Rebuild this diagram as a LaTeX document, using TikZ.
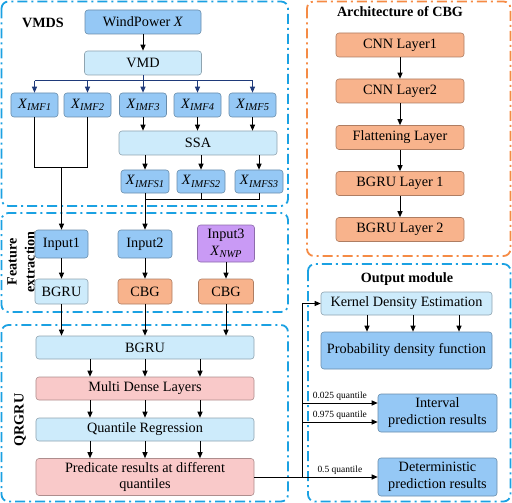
\documentclass[tikz,border=0pt]{standalone}
\usepackage{fontspec}
\setmainfont{Liberation Serif}
\usetikzlibrary{arrows.meta}
\definecolor{cmed}{HTML}{95C8F5}
\definecolor{clight}{HTML}{CDEBFB}
\definecolor{corange}{HTML}{F8B38C}
\definecolor{cpink}{HTML}{F9C9C9}
\definecolor{cpurple}{HTML}{C99AF5}
\definecolor{cframe}{HTML}{1BA1E2}
\definecolor{cframeo}{HTML}{F58B45}
\definecolor{cnavy}{HTML}{1F3A7A}
\newcommand{\Xsub}[1]{\textit{X}\raisebox{-0.35ex}{\fontsize{10.5}{10.5}\selectfont\textit{#1}}}
\begin{document}
\begin{tikzpicture}[x=1bp,y=-1bp,
  bx/.style={draw=#1!70!black, fill=#1, rounded corners=3bp, line width=0.6bp, inner sep=0pt,
    font=\fontsize{14.3}{17}\selectfont, align=center},
  sz/.style 2 args={minimum width=#1bp, minimum height=#2bp},
  frm/.style={draw=#1, line width=1.8bp, rounded corners=7bp, dash pattern=on 10bp off 4bp on 2bp off 4bp},
  ln/.style={line width=1bp, black},
  arr/.style={-{Triangle[length=6bp,width=5bp]}, line width=1bp, black},
  narr/.style={-{Triangle[length=6bp,width=5bp]}, line width=1bp, cnavy},
  ttl/.style={font=\bfseries\fontsize{14.2}{18}\selectfont, align=center},
  qlab/.style={font=\fontsize{9.5}{10}\selectfont, inner sep=1.5bp}]
\useasboundingbox (0,0) rectangle (512,503);
% frames
\draw[frm=cframe] (1.5,1.5) rectangle (288,206);
\draw[frm=cframe] (1.5,213) rectangle (288,312);
\draw[frm=cframe] (1.5,325) rectangle (288,501.5);
\draw[frm=cframeo] (307,1.5) rectangle (510.5,256);
\draw[frm=cframe] (308,264) rectangle (510.5,501.5);
% titles
\node[ttl] (tv) at (43,23) {VMDS};
\node[ttl] (tc) at (400,12) {Architecture of CBG};
\node[ttl] (to) at (407,279) {Output module};
\node[ttl, rotate=90] (tf) at (21,262) {Feature\\extraction};
\node[ttl, rotate=90] (tq) at (20,420) {QRGRU};
% VMDS
\node[bx=cmed, sz={116}{24}] (wp) at (143,22) {WindPower \textit{X}};
\node[bx=clight, sz={117}{24}] (vmd) at (143,63) {VMD};
\node[bx=cmed, sz={47}{24}] (imf1) at (34.5,105) {\Xsub{IMF1}};
\node[bx=cmed, sz={47}{24}] (imf2) at (87.5,105) {\Xsub{IMF2}};
\node[bx=cmed, sz={47}{24}] (imf3) at (143,105) {\Xsub{IMF3}};
\node[bx=cmed, sz={47}{24}] (imf4) at (197.5,105) {\Xsub{IMF4}};
\node[bx=cmed, sz={47}{24}] (imf5) at (252.5,105) {\Xsub{IMF5}};
\node[bx=clight, sz={158}{24}] (ssa) at (198,143) {SSA};
\node[bx=cmed, sz={48}{23}] (imfs1) at (145,181.5) {\Xsub{IMFS1}};
\node[bx=cmed, sz={48}{23}] (imfs2) at (201,181.5) {\Xsub{IMFS2}};
\node[bx=cmed, sz={48}{23}] (imfs3) at (259,181.5) {\Xsub{IMFS3}};
% feature extraction
\node[bx=cmed, sz={53}{28}] (in1) at (61.5,244) {Input1};
\node[bx=cmed, sz={54}{28}] (in2) at (145,244) {Input2};
\node[bx=cpurple, sz={57}{37}] (in3) at (226,243.5) {Input3\\\Xsub{NWP}};
\node[bx=clight, sz={53}{25}] (bg1) at (61.5,291.5) {BGRU};
\node[bx=corange, sz={54}{25}] (cb1) at (145,291.5) {CBG};
\node[bx=corange, sz={55}{25}] (cb2) at (226,291.5) {CBG};
% QRGRU
\node[bx=clight, sz={218}{23}] (bgru) at (145,347.5) {BGRU};
\node[bx=cpink, sz={218}{23}] (dense) at (145,388.5) {Multi Dense Layers};
\node[bx=clight, sz={218}{23}] (qr) at (145,429.5) {Quantile Regression};
\node[bx=cpink, sz={218}{37}] (pred) at (145,477) {Predicate results at different\\quantiles};
% CBG
\node[bx=corange, sz={128}{24}] (cnn1) at (400,45) {CNN Layer1};
\node[bx=corange, sz={128}{24}] (cnn2) at (400,91) {CNN Layer2};
\node[bx=corange, sz={128}{24}] (flat) at (400,137.5) {Flattening Layer};
\node[bx=corange, sz={128}{24}] (bl1) at (400,183.5) {BGRU Layer 1};
\node[bx=corange, sz={128}{24}] (bl2) at (400,229.5) {BGRU Layer 2};
% Output
\node[bx=clight, sz={171}{23}] (kde) at (406.5,303.5) {Kernel Density Estimation};
\node[bx=cmed, sz={171}{37}] (pdf) at (406.5,350.5) {Probability density function};
\node[bx=cmed, sz={119}{38}] (intv) at (437.5,413) {Interval\\prediction results};
\node[bx=cmed, sz={119}{38}] (det) at (437.5,477) {Deterministic\\prediction results};
% helper coordinates
\coordinate (vb) at (143,81);
\coordinate (j1) at (61.5,168);
\coordinate (j2) at (145,199);
\coordinate (c1) at (90,0);
\coordinate (c2) at (145,0);
\coordinate (c3) at (200,0);
\coordinate (k1) at (367,0);
\coordinate (k2) at (413,0);
\coordinate (k3) at (459,0);
\coordinate (v) at (302,0);
\coordinate (q1) at (302,403);
\coordinate (q2) at (302,422);
% connectors VMDS
\draw[arr] (wp) -- (vmd);
\draw[line width=1bp, cnavy] (vmd.south) -- (vb);
\draw[line width=1bp, cnavy] (vb -| imf1) -- (vb -| imf5);
\foreach \n in {imf1,imf2,imf3,imf4,imf5} \draw[narr] (vb -| \n) -- (\n.north);
\foreach \n in {imf3,imf4,imf5} \draw[arr] (\n.south) -- (\n.south |- ssa.north);
\foreach \n in {imfs1,imfs2,imfs3} \draw[arr] (ssa.south -| \n) -- (\n.north);
\draw[ln] (imf1.south) -- (imf1.south |- j1) -- (imf2.south |- j1) -- (imf2.south);
\draw[arr] (j1) -- (in1.north);
\draw[ln] (imfs3.south) -- (imfs3.south |- j2) -- (j2);
\draw[ln] (imfs2.south) -- (imfs2.south |- j2);
\draw[arr] (imfs1.south) -- (in2.north);
% feature
\draw[arr] (in1) -- (bg1);
\draw[arr] (in2) -- (cb1);
\draw[arr] (in3) -- (cb2);
\draw[arr] (bg1.south) -- (bg1.south |- bgru.north);
\draw[arr] (cb1.south) -- (cb1.south |- bgru.north);
\draw[arr] (cb2.south) -- (cb2.south |- bgru.north);
% QRGRU
\foreach \c in {c1,c2,c3} {
  \draw[arr] (bgru.south -| \c) -- (dense.north -| \c);
  \draw[arr] (dense.south -| \c) -- (qr.north -| \c);
  \draw[arr] (qr.south -| \c) -- (pred.north -| \c);
}
% CBG
\draw[arr] (cnn1) -- (cnn2);
\draw[arr] (cnn2) -- (flat);
\draw[arr] (flat) -- (bl1);
\draw[arr] (bl1) -- (bl2);
% output
\foreach \c in {k1,k2,k3} \draw[arr] (kde.south -| \c) -- (pdf.north -| \c);
\draw[arr] (pred.east) -- (pred.east -| v) |- (kde.west);
\draw[arr] (pred.east -| v) -- (det.west) node[qlab, midway, above] {0.5 quantile};
\draw[arr] (q1) -- (q1 -| intv.west) node[qlab, midway, above] {0.025 quantile};
\draw[arr] (q2) -- (q2 -| intv.west) node[qlab, midway, above] {0.975 quantile};
\end{tikzpicture}
\end{document}
